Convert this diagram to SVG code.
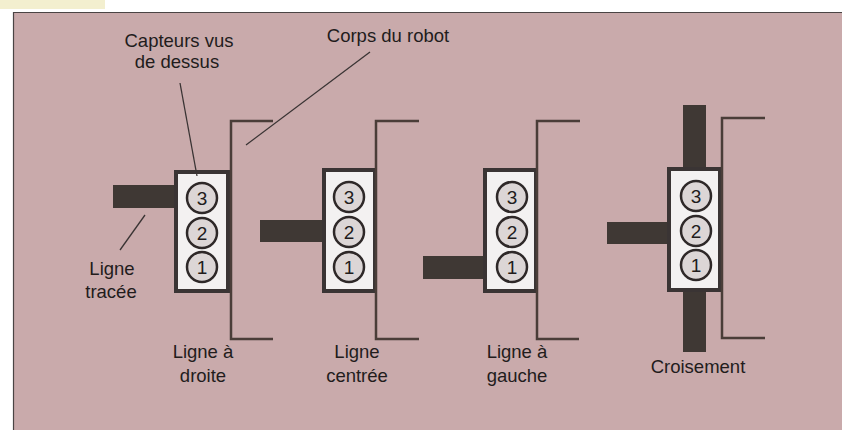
<svg xmlns="http://www.w3.org/2000/svg" width="842" height="430" viewBox="0 0 842 430">
<style>
.txt{font-family:"Liberation Sans",Arial,sans-serif;font-size:18.5px;fill:#221c1c;text-anchor:middle}
.box{fill:#f3f1f1;stroke:#3a3434;stroke-width:4}
.sens{fill:#dcd6d6;stroke:#2e2828;stroke-width:2.5}
.num{font-family:"Liberation Sans",Arial,sans-serif;font-size:19px;fill:#221c1c;text-anchor:middle}
.bracket{fill:none;stroke:#4a3d38;stroke-width:2.5}
.bar{fill:#3f3834}
.lead{fill:none;stroke:#3a3434;stroke-width:1.3}
</style>
<rect x="0" y="0" width="842" height="430" fill="#ffffff"/>
<rect x="0" y="0" width="105" height="9" fill="#f3efcf"/>
<rect x="13" y="12" width="829" height="418" fill="#c9aaab"/>
<path d="M13.5,430 V12.5 H842" fill="none" stroke="#4a4444" stroke-width="1.2"/>

<g id="panel-droite">
  <rect class="bar" x="113" y="185" width="62" height="23"/>
  <rect class="box" x="176" y="172" width="52" height="119"/>
  <circle class="sens" cx="202" cy="198" r="15"/><text class="num" x="202" y="205">3</text>
  <circle class="sens" cx="202" cy="233" r="15"/><text class="num" x="202" y="240">2</text>
  <circle class="sens" cx="202" cy="267" r="15"/><text class="num" x="202" y="274">1</text>
  <path class="bracket" d="M273,121 H231 V339 H273"/>
</g>

<g id="panel-centree">
  <rect class="bar" x="260" y="220" width="63" height="22"/>
  <rect class="box" x="324" y="170" width="51" height="121"/>
  <circle class="sens" cx="349" cy="197" r="15"/><text class="num" x="349" y="204">3</text>
  <circle class="sens" cx="349" cy="232" r="15"/><text class="num" x="349" y="239">2</text>
  <circle class="sens" cx="349" cy="267" r="15"/><text class="num" x="349" y="274">1</text>
  <path class="bracket" d="M419,121 H376 V339 H419"/>
</g>

<g id="panel-gauche">
  <rect class="bar" x="423" y="256" width="61" height="23" fill="#453840"/>
  <rect class="box" x="485" y="170" width="51" height="121"/>
  <circle class="sens" cx="512" cy="197" r="15"/><text class="num" x="512" y="204">3</text>
  <circle class="sens" cx="512" cy="232" r="15"/><text class="num" x="512" y="239">2</text>
  <circle class="sens" cx="512" cy="267" r="15"/><text class="num" x="512" y="274">1</text>
  <path class="bracket" d="M580,121 H537 V339 H579"/>
</g>

<g id="panel-croisement">
  <rect class="bar" x="683" y="105" width="23" height="247" fill="#3d302c"/>
  <rect class="bar" x="607" y="222" width="61" height="22" fill="#3d302c"/>
  <rect class="box" x="669" y="169" width="51" height="121"/>
  <circle class="sens" cx="696" cy="196" r="15"/><text class="num" x="696" y="203">3</text>
  <circle class="sens" cx="696" cy="231" r="15"/><text class="num" x="696" y="238">2</text>
  <circle class="sens" cx="696" cy="265" r="15"/><text class="num" x="696" y="272">1</text>
  <path class="bracket" d="M765,118 H722 V338 H765"/>
</g>

<g id="connectors">
  <line class="lead" x1="180" y1="83" x2="197" y2="176"/>
  <line class="lead" x1="370" y1="52" x2="246" y2="145"/>
  <line class="lead" x1="145" y1="215" x2="120" y2="250" stroke="#3a2a30"/>
</g>

<g id="label-capteurs">
  <text class="txt" x="179" y="47">Capteurs vus</text>
  <text class="txt" x="177" y="68">de dessus</text>
</g>
<g id="label-corps"><text class="txt" x="388" y="42">Corps du robot</text></g>
<g id="label-ligne-tracee">
  <text class="txt" x="112" y="275">Ligne</text>
  <text class="txt" x="111" y="298">tracée</text>
</g>
<g id="label-droite">
  <text class="txt" x="203" y="358">Ligne à</text>
  <text class="txt" x="203" y="382">droite</text>
</g>
<g id="label-centree">
  <text class="txt" x="357" y="358">Ligne</text>
  <text class="txt" x="357" y="382">centrée</text>
</g>
<g id="label-gauche">
  <text class="txt" x="517" y="358">Ligne à</text>
  <text class="txt" x="517" y="382">gauche</text>
</g>
<g id="label-croisement"><text class="txt" x="698" y="373">Croisement</text></g>
</svg>
